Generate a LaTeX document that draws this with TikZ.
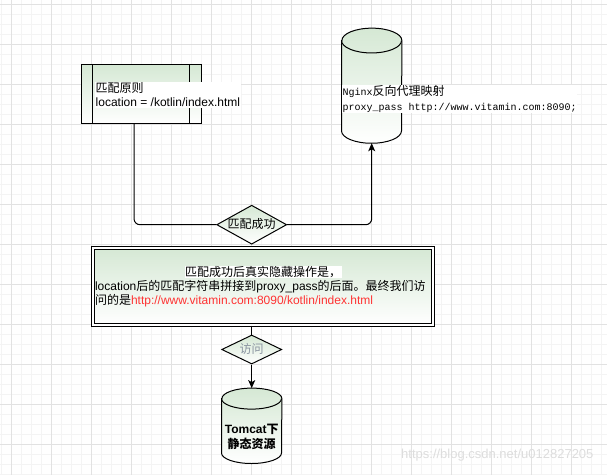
\documentclass[tikz,border=0pt]{standalone}
\usepackage{fontspec}
\setmainfont{Liberation Sans}
\newfontfamily\cjk{Noto Sans CJK SC}
\newfontfamily\monofont{Liberation Mono}
\usetikzlibrary{arrows.meta, positioning, shapes.geometric, calc}
\definecolor{flgreen}{HTML}{D5E8D4}
\definecolor{urlred}{HTML}{FF3333}
\definecolor{visitgray}{HTML}{8A94A0}
\definecolor{gridmaj}{HTML}{E2E2E2}
\definecolor{gridmin}{HTML}{F4F4F4}
\definecolor{wmgray}{HTML}{DDDDDD}
\newcommand{\zh}[1]{{\cjk #1}}
\setlength{\fboxsep}{0.5pt}
\tikzset{
  gbox/.style ={rectangle, draw, top color=flgreen, bottom color=white, line width=1pt},
  proc/.style ={gbox, minimum width=120pt, minimum height=59.4pt},
  dec/.style  ={diamond, draw, top color=flgreen, bottom color=white, line width=1pt, inner sep=0pt,
                text height=9pt, text depth=2pt, font=\fontsize{12}{14}\selectfont},
  cylbox/.style={rectangle, inner sep=0pt, minimum width=60pt},
  cylfill/.style={draw, top color=flgreen, bottom color=white, line width=1pt},
  dbl/.style  ={gbox, double, double distance=1.6pt},
  txt/.style  ={font=\fontsize{12}{14}\selectfont, align=left, inner sep=0.5pt},
  ln/.style   ={draw, line width=1pt},
  fl/.style   ={ln, -{Stealth[length=8pt, width=7pt, inset=2pt]}},
}

\begin{document}
\begin{tikzpicture}[x=1pt, y=-1pt]
  \useasboundingbox[fill=white] (0,0) rectangle (607,474);
  % grid
  \begin{scope}
    \clip (0,0) rectangle (607,474);
    \draw[gridmin, line width=0.6pt, step=10pt, xshift=1.7pt, yshift=-4.3pt] (-20,-20) grid (630,500);
    \draw[gridmaj, line width=0.8pt, step=40pt, xshift=11.7pt, yshift=-4.3pt] (-40,-40) grid (640,520);
  \end{scope}

  \node[proc] (rule) at (141,94) {};
  \draw[ln] ([xshift=12pt]rule.north west) -- ([xshift=12pt]rule.south west);
  \draw[ln] ([xshift=-12pt]rule.north east) -- ([xshift=-12pt]rule.south east);
  \node[txt, fill=white, anchor=west] (ruletxt) at (95,95) {\zh{匹配原则}\\location = /kotlin/index.html};

  % Nginx cylinder
  \node[cylbox, minimum height=114.7pt] (ngx) at (371.7,85.7) {};
  \path[cylfill] ([yshift=-12.4pt]ngx.north west) -- ([yshift=12.4pt]ngx.south west)
    arc[start angle=180, end angle=360, x radius=30pt, y radius=12.4pt]
    -- ([yshift=-12.4pt]ngx.north east)
    arc[start angle=0, end angle=180, x radius=30pt, y radius=12.4pt] -- cycle;
  \draw[ln] ([yshift=-12.4pt]ngx.north west) arc[start angle=180, end angle=360, x radius=30pt, y radius=12.4pt];
  \node[txt, fill=white, anchor=west, font=\fontsize{10}{15.7}\selectfont\monofont] (ngxtxt) at (342,99)
    {Nginx{\cjk\fontsize{12}{15.7}\selectfont 反向代理映射}\\proxy\_pass http://www.vitamin.com:8090;};

  \node[dec, aspect=1.8, minimum width=70pt, minimum height=39pt] (ok) at (251.7,224.7) {\zh{匹配成功}};

  \node[dbl, minimum width=340pt, minimum height=77pt, text width=336pt, align=left, inner sep=0pt,
        font=\fontsize{12}{14}\selectfont] (res) at (263,286.5)
    {\makebox[336pt][c]{\colorbox{white}{\zh{匹配成功后真实隐藏操作是，}}}\\
     location\zh{后的匹配字符串拼接到}proxy\_pass\zh{的后面。最终我们访}\\
     \zh{问的是}\textcolor{urlred}{http://www.vitamin.com:8090/kotlin/index.html}};

  \node[dec, aspect=2.07, minimum width=60pt, minimum height=29pt, text=visitgray] (visit) at (251.7,349.5) {\zh{访问}};

  % Tomcat cylinder
  \node[cylbox, minimum height=75pt] (tom) at (251.7,425.8) {};
  \path[cylfill] ([yshift=-10.5pt]tom.north west) -- ([yshift=10.5pt]tom.south west)
    arc[start angle=180, end angle=360, x radius=30pt, y radius=10.5pt]
    -- ([yshift=-10.5pt]tom.north east)
    arc[start angle=0, end angle=180, x radius=30pt, y radius=10.5pt] -- cycle;
  \draw[ln] ([yshift=-10.5pt]tom.north west) arc[start angle=180, end angle=360, x radius=30pt, y radius=10.5pt];
  \node[font=\bfseries\fontsize{12}{15.7}\selectfont, align=center, inner sep=0pt] (tomtxt) at (251.7,437)
    {Tomcat\zh{下}\\\zh{静态资源}};

  \node[font=\fontsize{13}{13}\selectfont, text=wmgray, anchor=east] (wm) at (597,455) {https://blog.csdn.net/u012827205};

  \draw[ln, rounded corners=6pt] ([xshift=-7pt]rule.south) |- (ok.west);
  \draw[fl, rounded corners=6pt] (ok.east) -| (ngx.south);
  \draw[ln] (res.south -| visit.north) -- (visit.north);
  \draw[fl] (visit.south) -- (tom.north);
\end{tikzpicture}
\end{document}
